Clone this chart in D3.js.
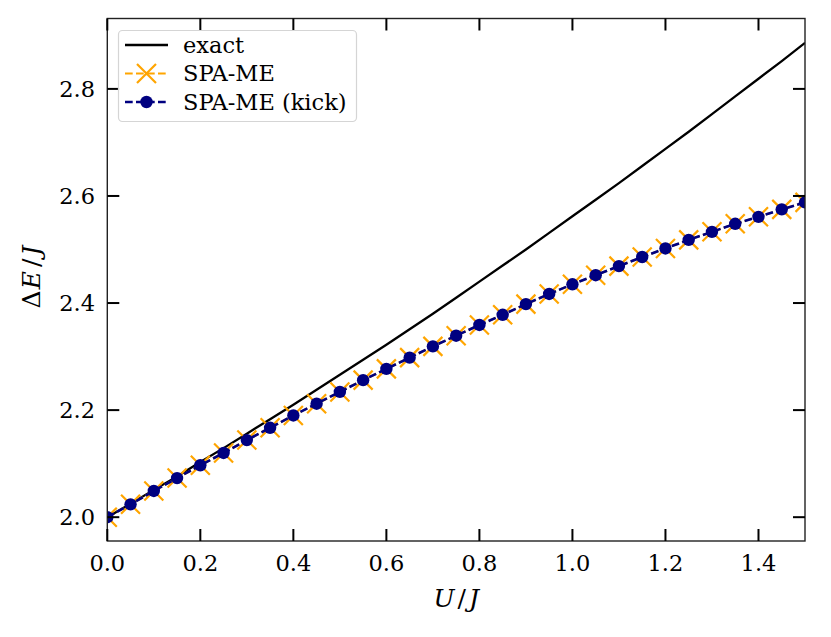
<!DOCTYPE html>
<html>
<head>
<meta charset="utf-8">
<script src="https://cdn.jsdelivr.net/npm/d3@7"></script>
<style>
  html, body { margin: 0; padding: 0; background: #fff; }
  svg { display: block; }
  text { font-family: "DejaVu Serif", serif; }
</style>
</head>
<body>
<div id="chart"></div>
<script>
const uValues = [0, 0.05, 0.1, 0.15, 0.2, 0.25, 0.3, 0.35, 0.4, 0.45, 0.5, 0.55, 0.6, 0.65, 0.7, 0.75,
  0.8, 0.85, 0.9, 0.95, 1.0, 1.05, 1.1, 1.15, 1.2, 1.25, 1.3, 1.35, 1.4, 1.45, 1.5];
const exactValues = [2.000, 2.025, 2.051, 2.076, 2.103, 2.129, 2.156, 2.183, 2.210, 2.238, 2.266,
  2.294, 2.322, 2.351, 2.380, 2.410, 2.440, 2.470, 2.500, 2.531, 2.562, 2.593, 2.624, 2.656,
  2.688, 2.720, 2.753, 2.786, 2.819, 2.852, 2.886];
const spaMeValues = [2.000, 2.024, 2.049, 2.073, 2.097, 2.120, 2.144, 2.167, 2.190, 2.212, 2.234,
  2.256, 2.277, 2.298, 2.319, 2.339, 2.359, 2.378, 2.398, 2.417, 2.435, 2.452, 2.469, 2.486,
  2.502, 2.518, 2.533, 2.548, 2.561, 2.575, 2.588];
const spaMeKickValues = [2.000, 2.024, 2.049, 2.073, 2.097, 2.120, 2.144, 2.167, 2.190, 2.212, 2.234,
  2.256, 2.277, 2.298, 2.319, 2.339, 2.359, 2.378, 2.398, 2.417, 2.435, 2.452, 2.469, 2.486,
  2.502, 2.518, 2.533, 2.548, 2.561, 2.575, 2.588];
const xTicks = [0.0, 0.2, 0.4, 0.6, 0.8, 1.0, 1.2, 1.4];
const yTicks = [2.0, 2.2, 2.4, 2.6, 2.8];
const legendLabels = ["exact", "SPA-ME", "SPA-ME (kick)"];

const width = 831, height = 637;
const plotLeft = 107.3, plotRight = 805, plotTop = 18.5, plotBottom = 541;
const fontSize = 22.5;
const labelSize = 25;
const serif = "DejaVu Serif";

const svg = d3.select("#chart").append("svg").attr("width", width).attr("height", height)
  .attr("font-family", serif);

const x = d3.scaleLinear().domain([0, 1.5]).range([plotLeft, plotRight]);
const y = d3.scaleLinear().domain([1.9555, 2.9315]).range([plotBottom, plotTop]);

svg.append("clipPath").attr("id", "plot-clip")
  .append("rect").attr("x", plotLeft).attr("y", plotTop)
  .attr("width", plotRight - plotLeft).attr("height", plotBottom - plotTop);

const plot = svg.append("g").attr("clip-path", "url(#plot-clip)");
const line = d3.line().x(d => x(d[0])).y(d => y(d[1]));

// exact curve
plot.append("path").datum(d3.zip(uValues, exactValues))
  .attr("d", line).attr("fill", "none").attr("stroke", "#000").attr("stroke-width", 2.3);

// SPA-ME, orange dashed with crosses
const spa = d3.zip(uValues, spaMeValues);
plot.append("path").datum(spa)
  .attr("d", line).attr("fill", "none").attr("stroke", "orange").attr("stroke-width", 2.2)
  .attr("stroke-dasharray", "7.7,3.3");
const cross = "M-9.5,-9.5L9.5,9.5M-9.5,9.5L9.5,-9.5";
plot.selectAll("path.cross").data(spa).join("path").attr("class", "cross")
  .attr("d", cross).attr("transform", d => `translate(${x(d[0])},${y(d[1])})`)
  .attr("stroke", "orange").attr("stroke-width", 2.2).attr("fill", "none");

// SPA-ME (kick), navy dashed with dots
const kick = d3.zip(uValues, spaMeKickValues);
plot.append("path").datum(kick)
  .attr("d", line).attr("fill", "none").attr("stroke", "navy").attr("stroke-width", 2.6)
  .attr("stroke-dasharray", "7.7,3.3");
plot.selectAll("circle.kick").data(kick).join("circle").attr("class", "kick")
  .attr("cx", d => x(d[0])).attr("cy", d => y(d[1])).attr("r", 6.2).attr("fill", "navy");

// spines
svg.append("rect").attr("x", plotLeft).attr("y", plotTop)
  .attr("width", plotRight - plotLeft).attr("height", plotBottom - plotTop)
  .attr("fill", "none").attr("stroke", "#222").attr("stroke-width", 1.4);

// ticks, inward on all four sides
const tickLen = 12;
const ticks = svg.append("g").attr("stroke", "#000").attr("stroke-width", 2);
xTicks.forEach(t => {
  ticks.append("line").attr("x1", x(t)).attr("x2", x(t)).attr("y1", plotBottom).attr("y2", plotBottom - tickLen);
  ticks.append("line").attr("x1", x(t)).attr("x2", x(t)).attr("y1", plotTop).attr("y2", plotTop + tickLen);
});
yTicks.forEach(t => {
  ticks.append("line").attr("x1", plotLeft).attr("x2", plotLeft + tickLen).attr("y1", y(t)).attr("y2", y(t));
  ticks.append("line").attr("x1", plotRight).attr("x2", plotRight - tickLen).attr("y1", y(t)).attr("y2", y(t));
});

// tick labels
svg.append("g").selectAll("text").data(xTicks).join("text")
  .attr("x", d => x(d)).attr("y", 571).attr("text-anchor", "middle")
  .attr("font-family", serif).attr("font-size", fontSize).attr("fill", "#000").text(d => d.toFixed(1));
svg.append("g").selectAll("text").data(yTicks).join("text")
  .attr("x", 95).attr("y", d => y(d) + 8).attr("text-anchor", "end")
  .attr("font-family", serif).attr("font-size", fontSize).attr("fill", "#000").text(d => d.toFixed(1));

// axis labels (math style: italic symbols, spaced slash)
const xLab = svg.append("text").attr("x", x(0.75)).attr("y", 607).attr("text-anchor", "middle")
  .attr("font-family", serif).attr("font-size", labelSize).attr("fill", "#000");
xLab.append("tspan").attr("font-style", "italic").text("U");
xLab.append("tspan").attr("dx", 3).text("/");
xLab.append("tspan").attr("dx", 3).attr("font-style", "italic").text("J");

const yLab = svg.append("text").attr("transform", "translate(40,277) rotate(-90)").attr("text-anchor", "middle")
  .attr("font-family", serif).attr("font-size", labelSize).attr("fill", "#000");
yLab.append("tspan").text("Δ");
yLab.append("tspan").attr("dx", 1).attr("font-style", "italic").text("E");
yLab.append("tspan").attr("dx", 4).text("/");
yLab.append("tspan").attr("dx", 3).attr("font-style", "italic").text("J");

// legend
const legend = svg.append("g");
legend.append("rect").attr("x", 118.5).attr("y", 30.5).attr("width", 238).attr("height", 91).attr("rx", 4)
  .attr("fill", "#fff").attr("fill-opacity", 0.85).attr("stroke", "#d5d5d5").attr("stroke-width", 1.2);
const rowY = [45, 73.5, 102];
const hx0 = 125, hx1 = 168, hxm = 146.5;
legend.append("line").attr("x1", hx0).attr("x2", hx1).attr("y1", rowY[0]).attr("y2", rowY[0])
  .attr("stroke", "#000").attr("stroke-width", 2.3);
legend.append("line").attr("x1", hx0).attr("x2", hx1).attr("y1", rowY[1]).attr("y2", rowY[1])
  .attr("stroke", "orange").attr("stroke-width", 2.2).attr("stroke-dasharray", "7.7,3.3");
legend.append("path").attr("d", cross).attr("transform", `translate(${hxm},${rowY[1]})`)
  .attr("stroke", "orange").attr("stroke-width", 2.2);
legend.append("line").attr("x1", hx0).attr("x2", hx1).attr("y1", rowY[2]).attr("y2", rowY[2])
  .attr("stroke", "navy").attr("stroke-width", 2.6).attr("stroke-dasharray", "7.7,3.3");
legend.append("circle").attr("cx", hxm).attr("cy", rowY[2]).attr("r", 6.2).attr("fill", "navy");
legend.selectAll("text").data(legendLabels).join("text")
  .attr("x", 183).attr("y", (d, i) => rowY[i] + 7.5)
  .attr("font-family", serif).attr("font-size", fontSize).attr("fill", "#000").text(d => d);
</script>
</body>
</html>
